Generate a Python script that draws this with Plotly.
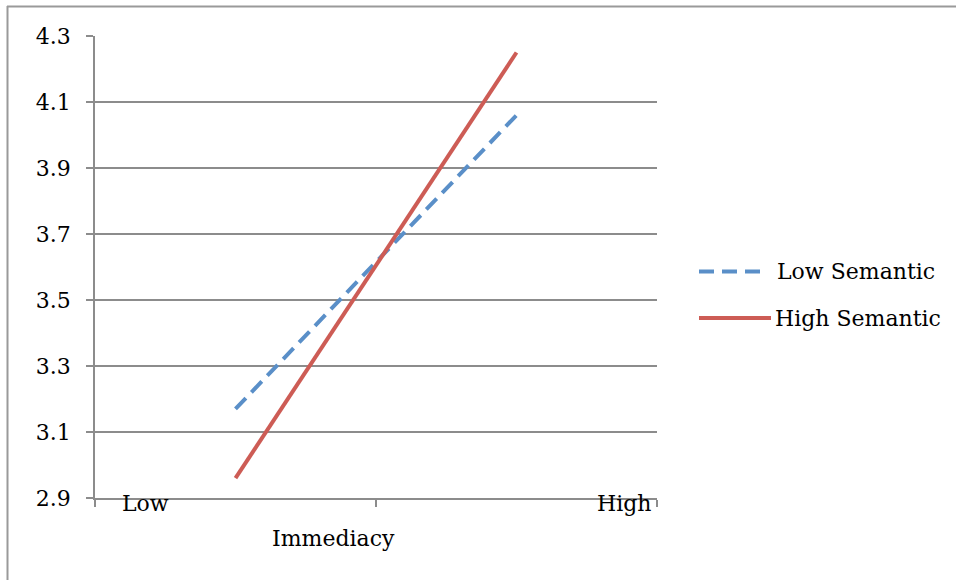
import plotly.graph_objects as go

# Data
categories = ["Low", "High"]
low_semantic = [3.17, 4.06]
high_semantic = [2.96, 4.25]
series_names = ["Low Semantic", "High Semantic"]
y_ticks = [2.9, 3.1, 3.3, 3.5, 3.7, 3.9, 4.1, 4.3]

FONT = "DejaVu Serif"
FS = 22
GRAY = "#8c8c8c"
BLUE = "#5A8FC8"
RED = "#CD5C55"

fig = go.Figure()
fig.add_trace(go.Scatter(x=categories, y=low_semantic, mode="lines", name=series_names[0],
                         line=dict(color=BLUE, width=4, dash="15px,8px"), showlegend=False))
fig.add_trace(go.Scatter(x=categories, y=high_semantic, mode="lines", name=series_names[1],
                         line=dict(color=RED, width=4), showlegend=False))

L, R, T, B = 95, 299, 36, 82
W, H = 956, 580
pw, ph = W - L - R, H - T - B

def px(x):
    return (x - L) / pw

def py(y):
    return (H - B - y) / ph

shapes = [
    # outer frame (top and left edges)
    dict(type="line", xref="paper", yref="paper", x0=px(7), x1=px(970), y0=py(6.5), y1=py(6.5),
         line=dict(color="#9a9a9a", width=2)),
    dict(type="line", xref="paper", yref="paper", x0=px(7.5), x1=px(7.5), y0=py(6), y1=py(600),
         line=dict(color="#9a9a9a", width=2)),
    # legend samples
    dict(type="line", xref="paper", yref="paper", x0=px(699), x1=px(762), y0=py(271.5), y1=py(271.5),
         line=dict(color=BLUE, width=4, dash="15px,8px")),
    dict(type="line", xref="paper", yref="paper", x0=px(699), x1=px(771), y0=py(318), y1=py(318),
         line=dict(color=RED, width=4)),
]

annotations = [
    dict(text=categories[0], xref="paper", yref="paper", x=px(145), y=py(503), showarrow=False,
         xanchor="center", yanchor="middle", font=dict(family=FONT, size=FS, color="black")),
    dict(text=categories[1], xref="paper", yref="paper", x=px(624), y=py(503), showarrow=False,
         xanchor="center", yanchor="middle", font=dict(family=FONT, size=FS, color="black")),
    dict(text="Immediacy", xref="paper", yref="paper", x=px(333), y=py(538), showarrow=False,
         xanchor="center", yanchor="middle", font=dict(family=FONT, size=FS, color="black")),
    dict(text=series_names[0], xref="paper", yref="paper", x=px(775), y=py(271.5), showarrow=False,
         xanchor="left", yanchor="middle", font=dict(family=FONT, size=FS, color="black")),
    dict(text=series_names[1], xref="paper", yref="paper", x=px(773), y=py(318), showarrow=False,
         xanchor="left", yanchor="middle", font=dict(family=FONT, size=FS, color="black")),
]

fig.update_layout(
    width=W, height=H,
    margin=dict(l=L, r=R, t=T, b=B),
    paper_bgcolor="white", plot_bgcolor="white",
    font=dict(family=FONT, size=FS, color="black"),
    shapes=shapes, annotations=annotations,
    xaxis=dict(type="category", range=[-0.5, 1.5], tickson="boundaries", ticks="outside", ticklen=7,
               tickcolor=GRAY, tickwidth=1.5, showticklabels=False, showgrid=False, showline=True,
               linecolor=GRAY, linewidth=1.5, zeroline=False, fixedrange=True),
    yaxis=dict(range=[2.9, 4.3], tickvals=y_ticks, ticktext=[f"{v:.1f}" for v in y_ticks],
               ticks="outside", ticklen=7, tickcolor=GRAY, tickwidth=1.5, showgrid=True, gridcolor=GRAY,
               gridwidth=1.5, showline=True, linecolor=GRAY, linewidth=1.5, zeroline=False,
               ticklabelstandoff=11, tickfont=dict(family=FONT, size=FS, color="black"), fixedrange=True),
)

fig.write_html("out.html", config={"displayModeBar": False})
